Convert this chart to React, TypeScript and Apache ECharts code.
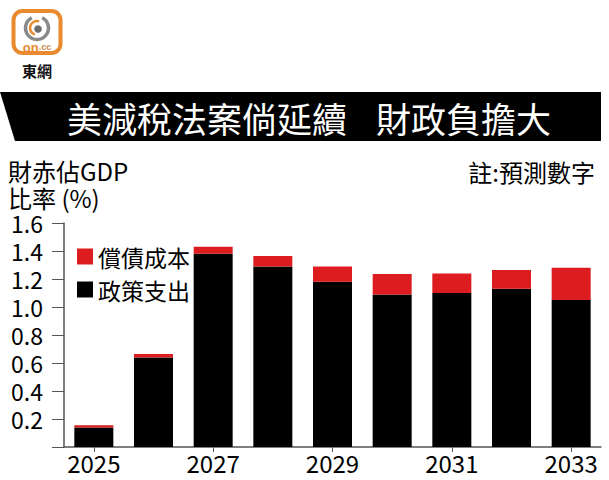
import React, { useEffect, useRef } from "react";
import * as echarts from "echarts";

const years = ["2025", "2026", "2027", "2028", "2029", "2030", "2031", "2032", "2033"];
const policySpending = [0.14, 0.64, 1.38, 1.29, 1.18, 1.09, 1.1, 1.13, 1.05];
const debtCost = [0.015, 0.025, 0.05, 0.075, 0.11, 0.145, 0.14, 0.135, 0.23];
const seriesNames = ["償債成本", "政策支出"];
const titleLeft = "美減稅法案倘延續";
const titleRight = "財政負擔大";
const unitLine1 = "財赤佔GDP";
const unitLine2 = "比率 (%)";
const note = "註:預測數字";

const FONT = "'Noto Sans CJK TC', 'Noto Sans', sans-serif";
const RED = "#dc1c1e";
const ORANGE = "#e98a2f";

export default function App() {
  const ref = useRef<HTMLDivElement>(null);
  useEffect(() => {
    document.body.style.margin = "0";
    const chart = echarts.init(ref.current!, null, { renderer: "svg" });
    chart.setOption({
      animation: false,
      textStyle: { fontFamily: FONT },
      grid: { left: 64, right: 8, top: 223, bottom: 33, containLabel: false },
      legend: {
        data: seriesNames,
        orient: "vertical",
        left: 72,
        top: 240,
        itemWidth: 16,
        itemHeight: 16,
        itemGap: 10,
        icon: "rect",
        selectedMode: false,
        textStyle: { fontSize: 23, lineHeight: 23, color: "#000", fontFamily: FONT },
      },
      xAxis: {
        type: "category",
        data: years,
        axisLine: { lineStyle: { color: "#555", width: 1.5 } },
        axisTick: { show: true, length: 5, alignWithLabel: true, interval: 1, lineStyle: { color: "#555" } },
        axisLabel: { interval: 1, fontSize: 24, lineHeight: 24, color: "#000", margin: 3, fontFamily: FONT },
      },
      yAxis: {
        type: "value",
        min: 0,
        max: 1.6,
        interval: 0.2,
        axisLine: { show: true, lineStyle: { color: "#555", width: 1.5 } },
        axisTick: { show: true, length: 12, lineStyle: { color: "#555" } },
        splitLine: { show: false },
        axisLabel: {
          fontSize: 23,
          lineHeight: 22,
          color: "#000",
          margin: 21,
          fontFamily: FONT,
          formatter: (v: number) => (v === 0 ? "" : v.toFixed(1)),
        },
      },
      series: [
        {
          name: seriesNames[1],
          type: "bar",
          stack: "total",
          barWidth: 39,
          data: policySpending,
          itemStyle: { color: "#000" },
        },
        {
          name: seriesNames[0],
          type: "bar",
          stack: "total",
          barWidth: 39,
          data: debtCost,
          itemStyle: { color: RED },
        },
      ],
      graphic: [
        // logo
        {
          type: "rect",
          shape: { x: 13.5, y: 11, width: 47, height: 42, r: 9 },
          style: { fill: "#fff", stroke: ORANGE, lineWidth: 4 },
        },
        {
          type: "arc",
          shape: { cx: 37, cy: 28, r: 11.5, startAngle: -Math.PI * 0.35, endAngle: Math.PI * 1.35, clockwise: true },
          style: { stroke: "#8a8a8a", lineWidth: 3.5, fill: "none" },
        },
        {
          type: "arc",
          shape: { cx: 37, cy: 28, r: 7, startAngle: Math.PI * 0.6, endAngle: Math.PI * 1.6 },
          style: { stroke: ORANGE, lineWidth: 2.5, fill: "none" },
        },
        { type: "circle", shape: { cx: 38, cy: 29, r: 3.8 }, style: { fill: "#6a6a6a" } },
        {
          type: "text",
          x: 37,
          y: 47,
          style: {
            text: "{a|on}{b|.cc}",
            align: "center",
            verticalAlign: "middle",
            rich: {
              a: { fill: ORANGE, font: "bold 13px 'Liberation Sans', sans-serif" },
              b: { fill: "#c98a50", font: "bold 9px 'Liberation Sans', sans-serif" },
            },
          },
        },
        {
          type: "text",
          x: 37,
          y: 70,
          style: {
            text: "東網",
            fill: "#111",
            font: `bold 15px ${FONT}`,
            align: "center",
            verticalAlign: "middle",
          },
        },
        // banner
        {
          type: "polygon",
          shape: { points: [[0, 92], [601, 92], [601, 141], [15, 141]] },
          style: { fill: "#000" },
        },
        {
          type: "text",
          x: 67,
          y: 117,
          style: { text: titleLeft, fill: "#fff", font: `35px ${FONT}`, verticalAlign: "middle" },
        },
        {
          type: "text",
          x: 376,
          y: 117,
          style: { text: titleRight, fill: "#fff", font: `35px ${FONT}`, verticalAlign: "middle" },
        },
        // unit text
        {
          type: "text",
          x: 8,
          y: 170,
          style: { text: unitLine1, fill: "#000", font: `24px ${FONT}`, lineHeight: 24, verticalAlign: "middle" },
        },
        {
          type: "text",
          x: 8,
          y: 197,
          style: { text: unitLine2, fill: "#000", font: `24px ${FONT}`, lineHeight: 24, verticalAlign: "middle" },
        },
        {
          type: "text",
          x: 595,
          y: 171,
          style: { text: note, fill: "#000", font: `24px ${FONT}`, lineHeight: 24, align: "right", verticalAlign: "middle" },
        },
      ],
    });
    return () => chart.dispose();
  }, []);
  return <div ref={ref} style={{ width: 609, height: 480 }} />;
}
